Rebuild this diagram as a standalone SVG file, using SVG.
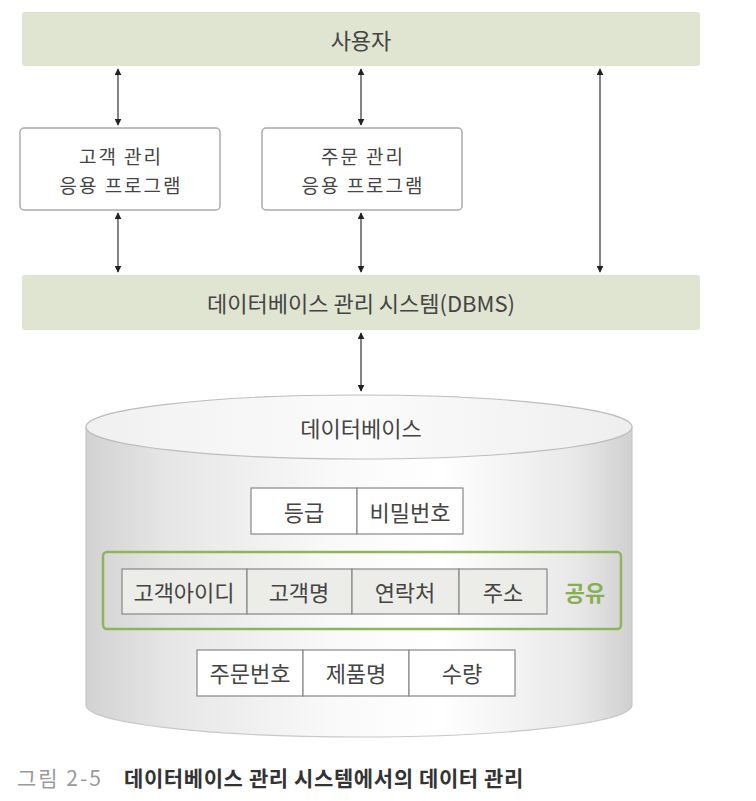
<svg xmlns="http://www.w3.org/2000/svg" width="756" height="801" viewBox="0 0 756 801">
<defs>
<style>
text{font-family:"Noto Sans CJK KR","Noto Sans",sans-serif;fill:#444;text-anchor:middle;dominant-baseline:central}
.band{fill:#dfe5d0}
.app{fill:#fff;stroke:#aaa;stroke-width:1.5}
.cell{fill:#fff;stroke:#888;stroke-width:1.2}
.gcell{fill:#ecede8;stroke:#888;stroke-width:1.2}
.t{font-size:22px}
.b{font-size:19px;letter-spacing:2px}
.conn line{stroke:#333;stroke-width:1.2;marker-start:url(#ah);marker-end:url(#ah)}
</style>
<marker id="ah" viewBox="0 0 10 10" refX="9" refY="5" markerWidth="7" markerHeight="7" orient="auto-start-reverse" markerUnits="userSpaceOnUse">
<path d="M0,0 L10,5 L0,10 z" fill="#222"/>
</marker>
<linearGradient id="cyl" x1="0" y1="0" x2="1" y2="0">
<stop offset="0" stop-color="#d2d2d2"/>
<stop offset="0.15" stop-color="#e6e6e6"/>
<stop offset="0.45" stop-color="#f9f9f9"/>
<stop offset="0.65" stop-color="#ffffff"/>
<stop offset="0.9" stop-color="#e8e8e8"/>
<stop offset="1" stop-color="#d0d0d0"/>
</linearGradient>
<linearGradient id="top" x1="0" y1="0" x2="1" y2="0">
<stop offset="0" stop-color="#f0f0f0"/>
<stop offset="0.5" stop-color="#fbfbfb"/>
<stop offset="1" stop-color="#eeeeee"/>
</linearGradient>
</defs>
<rect width="756" height="801" fill="#fff"/>

<g id="user">
<rect class="band" x="22" y="12" width="678" height="54" rx="3"/>
<text class="t" x="361" y="39">사용자</text>
</g>

<g id="app-customer">
<rect class="app" x="20" y="128" width="200" height="82" rx="4"/>
<text class="b" x="121" y="155">고객 관리</text>
<text class="b" x="121" y="184">응용 프로그램</text>
</g>

<g id="app-order">
<rect class="app" x="262" y="128" width="200" height="82" rx="4"/>
<text class="b" x="363" y="155">주문 관리</text>
<text class="b" x="363" y="184">응용 프로그램</text>
</g>

<g id="dbms">
<rect class="band" x="22" y="275" width="678" height="55" rx="3"/>
<text class="t" x="361" y="302">데이터베이스 관리 시스템(DBMS)</text>
</g>

<g id="database">
<path d="M86,427 L86,705 A273,32 0 0 0 632,705 L632,427 Z" fill="url(#cyl)" stroke="#c8c8c8" stroke-width="1.2"/>
<ellipse cx="359" cy="427" rx="273" ry="32" fill="url(#top)" stroke="#bdbdbd" stroke-width="1.2"/>
<text class="t" x="361" y="427">데이터베이스</text>
</g>

<g id="row-grade">
<rect class="cell" x="251" y="488" width="106" height="46"/>
<rect class="cell" x="357" y="488" width="106" height="46"/>
<text class="t" x="304" y="511">등급</text>
<text class="t" x="410" y="511">비밀번호</text>
</g>

<g id="shared">
<rect x="103" y="552" width="518" height="77" rx="4" fill="none" stroke="#8db55e" stroke-width="2.5"/>
<rect class="gcell" x="122" y="569" width="125" height="45"/>
<rect class="gcell" x="247" y="569" width="105" height="45"/>
<rect class="gcell" x="352" y="569" width="107" height="45"/>
<rect class="gcell" x="459" y="569" width="88" height="45"/>
<text class="t" x="184" y="591">고객아이디</text>
<text class="t" x="299" y="591">고객명</text>
<text class="t" x="405" y="591">연락처</text>
<text class="t" x="503" y="591">주소</text>
<text x="585" y="591" style="font-size:22px;font-weight:bold;fill:#86b050">공유</text>
</g>

<g id="row-order">
<rect class="cell" x="197" y="650" width="106" height="46"/>
<rect class="cell" x="303" y="650" width="106" height="46"/>
<rect class="cell" x="409" y="650" width="106" height="46"/>
<text class="t" x="250" y="672">주문번호</text>
<text class="t" x="356" y="672">제품명</text>
<text class="t" x="462" y="672">수량</text>
</g>

<g id="connectors" class="conn">
<line x1="118" y1="69" x2="118" y2="125"/>
<line x1="361" y1="69" x2="361" y2="125"/>
<line x1="600" y1="69" x2="600" y2="272"/>
<line x1="118" y1="213" x2="118" y2="272"/>
<line x1="361" y1="213" x2="361" y2="272"/>
<line x1="361" y1="333" x2="361" y2="391"/>
</g>

<g id="caption">
<text x="17" y="777" style="text-anchor:start;font-size:21px;letter-spacing:2px;fill:#999">그림 2-5</text>
<text x="124" y="777" style="text-anchor:start;font-size:21px;letter-spacing:0.6px;font-weight:bold;fill:#333">데이터베이스 관리 시스템에서의 데이터 관리</text>
</g>
</svg>
